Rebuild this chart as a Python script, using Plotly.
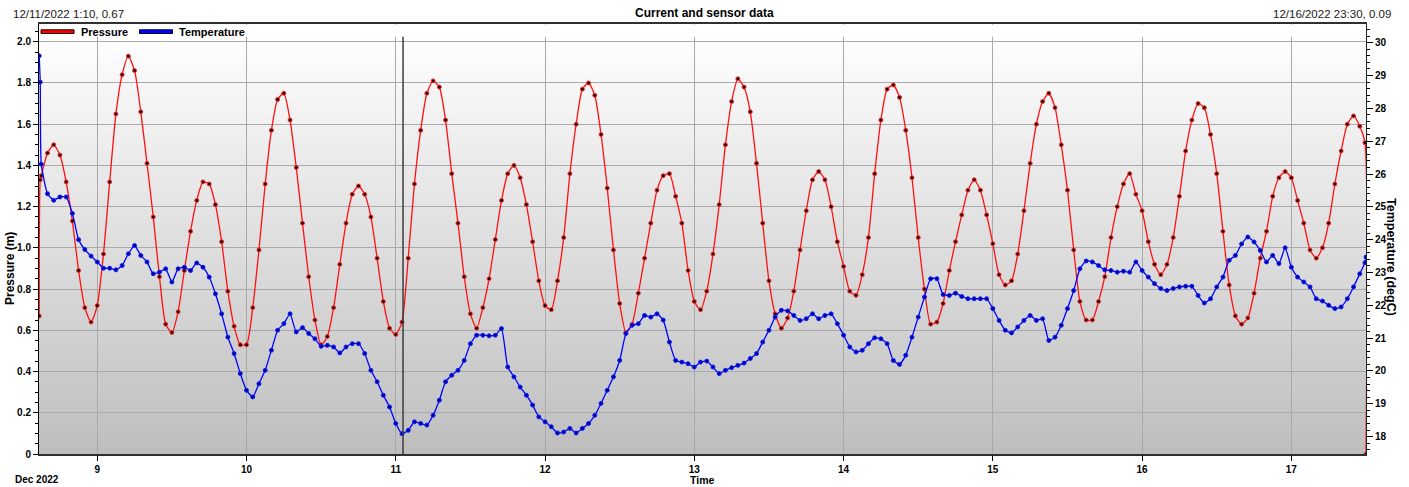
import pandas as pd
import plotly.graph_objects as go

# ---------------------------------------------------------------- data
# Two start-up readings, the hourly log, then the last two readings.
hourly = pd.date_range("2022-12-08 15:00", "2022-12-17 11:00", freq="h")
times = (pd.to_datetime(["2022-12-08 14:40", "2022-12-08 14:50"])
         .append(hourly)
         .append(pd.to_datetime(["2022-12-17 11:50", "2022-12-17 12:00"])))

pressure_m = [
    0.67, 1.33,
    # Dec 8, 15:00-23:00
    1.35, 1.46, 1.50, 1.45, 1.32, 1.13, 0.89, 0.71, 0.64,
    # Dec 9
    0.72, 0.97, 1.32, 1.65, 1.84, 1.93, 1.86, 1.66, 1.41, 1.15, 0.86, 0.63,
    0.59, 0.69, 0.89, 1.08, 1.23, 1.32, 1.31, 1.21, 1.03, 0.79, 0.62, 0.53,
    # Dec 10
    0.53, 0.71, 0.99, 1.31, 1.57, 1.72, 1.75, 1.62, 1.39, 1.12, 0.86, 0.65,
    0.53, 0.57, 0.71, 0.92, 1.12, 1.26, 1.30, 1.26, 1.15, 0.95, 0.74, 0.61,
    # Dec 11
    0.58, 0.64, 0.95, 1.31, 1.57, 1.75, 1.81, 1.78, 1.62, 1.36, 1.12, 0.86,
    0.68, 0.61, 0.71, 0.85, 1.04, 1.23, 1.36, 1.40, 1.34, 1.21, 1.03, 0.84,
    # Dec 12
    0.72, 0.70, 0.84, 1.05, 1.36, 1.60, 1.77, 1.80, 1.74, 1.55, 1.29, 0.99,
    0.73, 0.59, 0.63, 0.78, 0.95, 1.12, 1.28, 1.35, 1.36, 1.25, 1.12, 0.89,
    # Dec 13
    0.74, 0.70, 0.79, 0.97, 1.21, 1.50, 1.71, 1.82, 1.78, 1.66, 1.41, 1.12,
    0.84, 0.68, 0.61, 0.66, 0.79, 0.99, 1.18, 1.33, 1.37, 1.33, 1.20, 1.03,
    # Dec 14
    0.91, 0.79, 0.77, 0.87, 1.05, 1.36, 1.62, 1.77, 1.79, 1.73, 1.57, 1.34,
    1.05, 0.80, 0.63, 0.64, 0.73, 0.89, 1.03, 1.16, 1.28, 1.33, 1.28, 1.16,
    # Dec 15
    1.02, 0.87, 0.82, 0.84, 0.97, 1.18, 1.41, 1.60, 1.71, 1.75, 1.68, 1.50,
    1.28, 0.99, 0.74, 0.65, 0.65, 0.74, 0.86, 1.05, 1.20, 1.31, 1.36, 1.26,
    # Dec 16
    1.18, 1.03, 0.92, 0.87, 0.92, 1.05, 1.25, 1.47, 1.62, 1.70, 1.68, 1.55,
    1.36, 1.08, 0.82, 0.67, 0.63, 0.66, 0.78, 0.95, 1.08, 1.25, 1.34, 1.37,
    # Dec 17, 00:00-11:00
    1.34, 1.23, 1.12, 0.99, 0.95, 1.00, 1.12, 1.31, 1.47, 1.60, 1.64, 1.59,
    1.51, 0.00,
]

temperature_c = [
    29.6, 28.8,
    # Dec 8, 15:00-23:00
    26.3, 25.4, 25.2, 25.3, 25.3, 24.8, 24.0, 23.7, 23.5,
    # Dec 9
    23.32, 23.13, 23.13, 23.08, 23.21, 23.57, 23.82, 23.52, 23.32, 22.96, 23.01, 23.11,
    22.71, 23.11, 23.16, 23.06, 23.29, 23.16, 22.86, 22.35, 21.74, 21.03, 20.53, 19.92,
    # Dec 10
    19.41, 19.21, 19.61, 20.02, 20.63, 21.24, 21.44, 21.74, 21.19, 21.32, 21.14, 20.98,
    20.75, 20.78, 20.73, 20.55, 20.73, 20.83, 20.83, 20.53, 20.02, 19.67, 19.26, 18.90,
    # Dec 11
    18.40, 18.09, 18.19, 18.45, 18.40, 18.35, 18.65, 19.11, 19.67, 19.87, 20.02, 20.32,
    20.83, 21.09, 21.09, 21.07, 21.09, 21.29, 20.12, 19.82, 19.51, 19.26, 18.96, 18.60,
    # Dec 12
    18.45, 18.30, 18.11, 18.14, 18.25, 18.11, 18.25, 18.40, 18.65, 19.01, 19.41, 19.82,
    20.32, 21.14, 21.39, 21.44, 21.69, 21.64, 21.74, 21.55, 20.88, 20.32, 20.27, 20.22,
    # Dec 13
    20.12, 20.27, 20.30, 20.12, 19.92, 20.02, 20.10, 20.17, 20.24, 20.38, 20.53, 20.88,
    21.24, 21.64, 21.85, 21.83, 21.69, 21.54, 21.59, 21.74, 21.59, 21.69, 21.74, 21.44,
    # Dec 14
    21.09, 20.73, 20.58, 20.63, 20.83, 21.01, 20.98, 20.83, 20.32, 20.20, 20.48, 21.03,
    21.64, 22.25, 22.81, 22.81, 22.33, 22.30, 22.37, 22.27, 22.20, 22.20, 22.20, 22.20,
    # Dec 15
    21.90, 21.54, 21.24, 21.16, 21.34, 21.54, 21.69, 21.54, 21.59, 20.93, 21.03, 21.39,
    21.90, 22.45, 23.11, 23.35, 23.32, 23.21, 23.08, 23.06, 23.01, 23.04, 23.01, 23.32,
    # Dec 16
    23.06, 22.86, 22.66, 22.51, 22.45, 22.51, 22.56, 22.58, 22.58, 22.30, 22.07, 22.20,
    22.56, 22.86, 23.37, 23.52, 23.87, 24.08, 23.93, 23.67, 23.32, 23.52, 23.27, 23.75,
    # Dec 17, 00:00-11:00
    23.16, 22.86, 22.71, 22.56, 22.20, 22.13, 22.00, 21.90, 21.95, 22.20, 22.56, 22.96,
    23.30, 23.47,
]

assert len(times) == len(pressure_m) == len(temperature_c)

day_ticks = pd.date_range("2022-12-09", "2022-12-17", freq="D")
day_labels = [str(d.day) for d in day_ticks]
pressure_ticks = [0, 0.2, 0.4, 0.6, 0.8, 1.0, 1.2, 1.4, 1.6, 1.8, 2.0]
pressure_labels = ["0", "0.2", "0.4", "0.6", "0.8", "1.0", "1.2", "1.4", "1.6", "1.8", "2.0"]
temp_ticks = list(range(18, 31))
temp_labels = [str(t) for t in temp_ticks]

cursor_time = "2022-12-11 01:10"
title_text = "Current and sensor data"
left_info = "12/11/2022 1:10, 0.67"
right_info = "12/16/2022 23:30, 0.09"

# ---------------------------------------------------------------- layout helpers
W, H = 1409, 487
ML, MR, MT, MB = 39, 43, 24, 33
PW, PH = W - ML - MR, H - MT - MB
FONT = "Liberation Sans, Arial, sans-serif"


def px_x(x):
    return (x - ML) / PW


def px_y(y):
    return (H - MB - y) / PH


fig = go.Figure()

fig.add_trace(go.Scatter(
    x=times, y=pressure_m, name="Pressure", mode="lines+markers",
    line=dict(color="#ff1010", width=1.3, shape="spline", smoothing=0.6),
    marker=dict(symbol="circle", size=4, color="#200000",
                line=dict(color="#ff3030", width=1)),
    showlegend=False,
))
fig.add_trace(go.Scatter(
    x=times, y=temperature_c, name="Temperature", mode="lines+markers",
    yaxis="y2",
    line=dict(color="#0000ff", width=1.3, shape="spline", smoothing=0.5),
    marker=dict(symbol="circle", size=4, color="#0000a0",
                line=dict(color="#1020ff", width=1)),
    showlegend=False,
))

shapes = []
# vertical grey gradient behind the plot
band_top = px_y(36.7)
n_bands = 70
for i in range(n_bands):
    f0 = i / n_bands
    f1 = (i + 1) / n_bands
    t = (f0 + f1) / 2
    c = int(round(190 + (254 - 190) * t))
    shapes.append(dict(type="rect", xref="paper", yref="paper",
                       x0=0, x1=1, y0=band_top * f0, y1=band_top * f1 + 0.002,
                       fillcolor=f"rgb({c},{c},{c})", line=dict(width=0),
                       layer="below"))
# white legend strip along the top edge
shapes.append(dict(type="rect", xref="paper", yref="paper",
                   x0=0.0008, x1=0.9992, y0=band_top, y1=0.998,
                   fillcolor="white", line=dict(width=0), layer="above"))
# cursor line
shapes.append(dict(type="line", xref="x", yref="paper",
                   x0=cursor_time, x1=cursor_time, y0=0, y1=band_top,
                   line=dict(color="#3c3c3c", width=1.5), layer="above"))
# legend swatches
for x0, x1, fill, edge in [(41, 74, "#ff0000", "#200000"),
                           (139.5, 172.5, "#0000ff", "#000030")]:
    shapes.append(dict(type="rect", xref="paper", yref="paper",
                       x0=px_x(x0), x1=px_x(x1), y0=px_y(33.5), y1=px_y(29.8),
                       fillcolor=fill, line=dict(color=edge, width=1),
                       layer="above"))

annotations = [
    dict(text=f"<b>{title_text}</b>", x=px_x(704), y=px_y(13), xref="paper", yref="paper",
         xanchor="center", yanchor="middle", showarrow=False,
         font=dict(family=FONT, size=12, color="black")),
    dict(text=left_info, x=px_x(11), y=px_y(14), xref="paper", yref="paper",
         xanchor="left", yanchor="middle", showarrow=False,
         font=dict(family=FONT, size=11.5, color="#202020")),
    dict(text=right_info, x=px_x(1393), y=px_y(14), xref="paper", yref="paper",
         xanchor="right", yanchor="middle", showarrow=False,
         font=dict(family=FONT, size=11.5, color="#202020")),
    dict(text="<b>Pressure</b>", x=px_x(79), y=px_y(31.5), xref="paper", yref="paper",
         xanchor="left", yanchor="middle", showarrow=False,
         font=dict(family=FONT, size=11, color="black")),
    dict(text="<b>Temperature</b>", x=px_x(177), y=px_y(31.5), xref="paper", yref="paper",
         xanchor="left", yanchor="middle", showarrow=False,
         font=dict(family=FONT, size=11, color="black")),
    dict(text="<b>Pressure (m)</b>", x=px_x(10), y=px_y(269), xref="paper", yref="paper",
         xanchor="center", yanchor="middle", textangle=-90, showarrow=False,
         font=dict(family=FONT, size=12, color="black")),
    dict(text="<b>Temperature (degC)</b>", x=px_x(1391), y=px_y(257), xref="paper", yref="paper",
         xanchor="center", yanchor="middle", textangle=90, showarrow=False,
         font=dict(family=FONT, size=12.5, color="black")),
    dict(text="<b>Time</b>", x=px_x(702), y=px_y(480), xref="paper", yref="paper",
         xanchor="center", yanchor="middle", showarrow=False,
         font=dict(family=FONT, size=10.5, color="black")),
    dict(text="<b>Dec 2022</b>", x=px_x(36.5), y=px_y(480), xref="paper", yref="paper",
         xanchor="center", yanchor="middle", showarrow=False,
         font=dict(family=FONT, size=10, color="black")),
]

tick_font = dict(family=FONT, size=10, color="black", weight="bold")

fig.update_layout(
    width=W, height=H,
    margin=dict(l=ML, r=MR, t=MT, b=MB, pad=0),
    paper_bgcolor="white",
    plot_bgcolor="rgba(0,0,0,0)",
    showlegend=False,
    shapes=shapes,
    annotations=annotations,
    xaxis=dict(
        type="date",
        range=["2022-12-08 14:38", "2022-12-17 12:00"],
        tickmode="array", tickvals=day_ticks, ticktext=day_labels,
        tickfont=tick_font, ticks="outside", ticklen=5, tickcolor="black",
        showgrid=True, gridcolor="#a9a9a9", gridwidth=1,
        showline=True, linecolor="#303030", linewidth=1.5, mirror=True,
        zeroline=False,
    ),
    yaxis=dict(
        range=[0, 2.086],
        tickmode="array", tickvals=pressure_ticks, ticktext=pressure_labels,
        tickfont=tick_font, ticks="outside", ticklen=5, tickcolor="black",
        minor=dict(dtick=0.05, ticks="outside", ticklen=3, tickcolor="black",
                   showgrid=False),
        showgrid=True, gridcolor="#a9a9a9", gridwidth=1,
        showline=True, linecolor="black", linewidth=1,
        zeroline=False,
    ),
    yaxis2=dict(
        overlaying="y", side="right",
        range=[17.47, 30.57],
        tickmode="array", tickvals=temp_ticks, ticktext=temp_labels,
        tickfont=tick_font, ticks="outside", ticklen=6, tickcolor="black",
        minor=dict(dtick=0.2, ticks="outside", ticklen=3, tickcolor="black",
                   showgrid=False),
        showgrid=False, showline=True, linecolor="#202020", linewidth=1,
        zeroline=False,
    ),
)

fig.write_html("out.html")
